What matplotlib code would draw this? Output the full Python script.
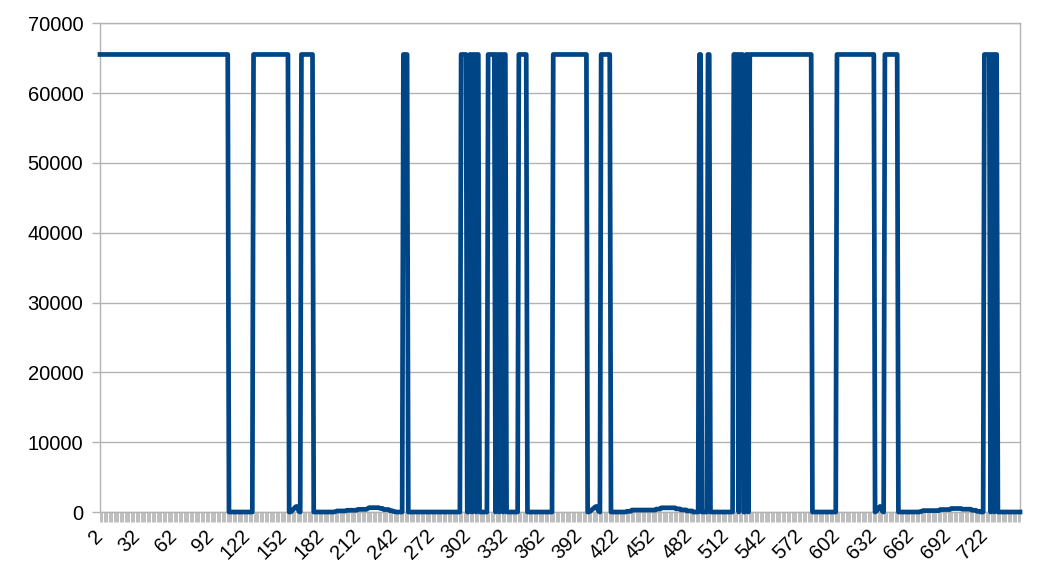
import matplotlib
matplotlib.use("Agg")
import matplotlib.pyplot as plt
import numpy as np

H = 65535
# Series as (value, number of consecutive points)
runs_part1 = [
    (H, 105), (0, 20), (H, 29),
    (0, 2), (100, 1), (300, 1), (500, 1), (700, 1), (800, 1), (500, 1), (100, 1), (0, 1),
    (H, 10),
    (0, 17), (30, 1), (80, 1), (150, 8), (250, 9), (380, 8), (500, 1), (620, 9),
    (520, 3), (350, 5), (180, 3), (60, 2), (0, 6),
    (H, 4), (0, 43),
]
runs_part2 = [
    (H, 5), (0, 2), (H, 2), (0, 1), (H, 2), (0, 1), (H, 2), (0, 7), (H, 6), (0, 1),
    (H, 2), (0, 1), (H, 2), (0, 1), (H, 2), (0, 10), (H, 7),
    (0, 21), (H, 28),
    (0, 2), (100, 1), (250, 1), (400, 1), (550, 1), (700, 1), (800, 1), (500, 1), (100, 1), (0, 1),
    (H, 8),
    (0, 13), (100, 4), (280, 20), (420, 4), (600, 12), (450, 4), (300, 5), (150, 5), (0, 5),
    (H, 2), (0, 5), (H, 2), (0, 19), (H, 4), (0, 1), (H, 3), (0, 2), (H, 2), (0, 1), (H, 51),
]
runs_part3 = [
    (0, 20), (H, 31),
    (0, 1), (100, 1), (300, 1), (600, 1), (800, 1), (500, 1), (100, 1), (0, 1),
    (H, 11),
    (0, 18), (80, 2), (200, 14), (350, 9), (500, 9), (400, 8), (250, 4), (100, 3), (0, 3),
    (H, 5), (0, 1), (H, 2), (0, 1), (H, 2), (0, 19),
]

runs = runs_part1 + runs_part2 + runs_part3
values = np.repeat([v for v, n in runs], [n for v, n in runs])
categories = np.arange(2, 2 + len(values))
label_cats = list(range(2, int(categories[-1]) + 1, 30))
tick_labels = [str(c) for c in label_cats]
y_ticks = list(range(0, 70001, 10000))

plt.rcParams['font.family'] = ['Liberation Sans', 'DejaVu Sans']

fig = plt.figure(figsize=(10.43, 5.74), dpi=100)
ax = fig.add_axes([100 / 1043, 1 - 512 / 574, 920 / 1043, (512 - 23.3) / 574])

ax.plot(categories, values, color='#004586', lw=3.4, clip_on=False, zorder=3)

ax.set_xlim(categories[0], categories[-1])
ax.set_ylim(0, 70000)
ax.set_yticks(y_ticks)
ax.set_yticklabels([str(v) for v in y_ticks], fontsize=14.5)
ax.yaxis.grid(True, color='#b3b3b3', lw=1)
ax.set_axisbelow(True)
for s in ax.spines.values():
    s.set_color('#b3b3b3')
    s.set_linewidth(1)

ax.set_xticks(label_cats)
ax.set_xticklabels(tick_labels, fontsize=14.5, rotation=45, ha='right', va='center',
                   rotation_mode='anchor')
ax.set_xticks(categories, minor=True)
ax.tick_params(axis='x', which='both', length=7, color='#b3b3b3', width=0.6, pad=8)
ax.tick_params(axis='y', length=6, color='#b3b3b3', width=1, pad=6)

fig.savefig('out.png', dpi=100)
